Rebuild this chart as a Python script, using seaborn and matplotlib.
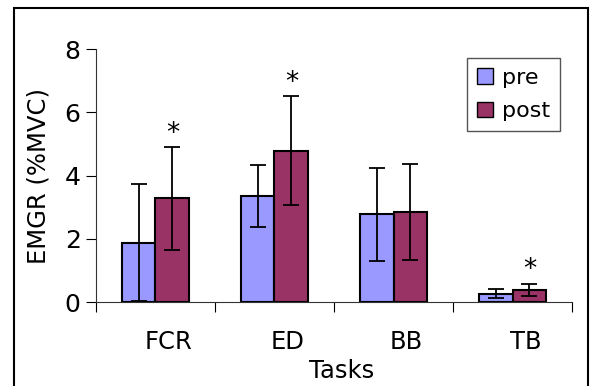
import matplotlib
matplotlib.use("Agg")
import matplotlib.pyplot as plt
import matplotlib.transforms as mtransforms
from matplotlib.patches import Rectangle, Patch
import seaborn as sns
import pandas as pd

# Datos
tareas = ["FCR", "ED", "BB", "TB"]
pre = [1.88, 3.36, 2.77, 0.26]
post = [3.28, 4.78, 2.84, 0.38]
err_pre = [1.85, 0.98, 1.48, 0.14]
err_post = [1.62, 1.72, 1.52, 0.20]
significativo = [True, True, False, True]

color_pre = "#9999FF"
color_post = "#993366"

df = pd.DataFrame({
    "Tasks": tareas * 2,
    "valor": pre + post,
    "grupo": ["pre"] * 4 + ["post"] * 4,
})

sns.set_style("white")
plt.rcParams["font.family"] = ["DejaVu Sans"]
plt.rcParams["text.color"] = "black"
plt.rcParams["axes.labelcolor"] = "black"
plt.rcParams["xtick.color"] = "black"
plt.rcParams["ytick.color"] = "black"

fig = plt.figure(figsize=(5.9, 3.86), dpi=100)
ax = fig.add_axes([0.1627, 0.2176, 0.8068, 0.6554])

sns.barplot(data=df, x="Tasks", y="valor", hue="grupo",
            palette=[color_pre, color_post], width=0.57, gap=0,
            saturation=1, errorbar=None, edgecolor="black", linewidth=1.5,
            legend=False, ax=ax)

# barras de error a partir de las barras dibujadas
barras = [p for p in ax.patches if p.get_height() > 0]
barras = sorted(barras, key=lambda p: p.get_x())
errores = []
for i in range(len(tareas)):
    errores.append(err_pre[i])
    errores.append(err_post[i])
for b, e in zip(barras, errores):
    xc = b.get_x() + b.get_width() / 2
    ax.errorbar(xc, b.get_height(), yerr=e, color="black", capsize=6,
                elinewidth=1.3, capthick=1.3, fmt="none")

# asteriscos
for i, s in enumerate(significativo):
    if s:
        b = barras[2 * i + 1]
        xc = b.get_x() + b.get_width() / 2
        ax.text(xc, post[i] + err_post[i] + 0.42, "*", ha="center",
                va="center", fontsize=19)

ax.set_ylim(0, 8)
ax.set_xlim(-0.5, 3.5)
ax.set_yticks([0, 2, 4, 6, 8])
ax.tick_params(axis="y", labelsize=18, length=7, width=0.8, direction="out",
               left=True, pad=4)

ax.set_xticks([-0.5, 0.5, 1.5, 2.5, 3.5])
ax.set_xticklabels([])
ax.tick_params(axis="x", which="major", length=7, width=0.8,
               direction="out", bottom=True)
ax.set_xticks(range(len(tareas)), minor=True)
ax.set_xticklabels(tareas, minor=True, fontsize=17.5)
ax.tick_params(axis="x", which="minor", length=0, pad=20)
desplazar = mtransforms.ScaledTranslation(13 / 100, 0, fig.dpi_scale_trans)
for lab in ax.get_xticklabels(minor=True):
    lab.set_transform(lab.get_transform() + desplazar)

ax.set_xlabel("Tasks", fontsize=17.5, labelpad=2)
ax.xaxis.set_label_coords(0.515, -0.225)
ax.set_ylabel("EMGR (%MVC)", fontsize=17.5, labelpad=10)

sns.despine(ax=ax)
for lado in ["left", "bottom"]:
    ax.spines[lado].set_color("#333333")
    ax.spines[lado].set_linewidth(0.8)

manijas = [Patch(facecolor=color_pre, edgecolor="black", label="pre"),
           Patch(facecolor=color_post, edgecolor="black", label="post")]
leg = ax.legend(handles=manijas, loc="upper left",
                bbox_to_anchor=(0.78, 0.965), fontsize=16, fancybox=False,
                handlelength=0.7, handleheight=0.7, handletextpad=0.4,
                borderpad=0.45, labelspacing=0.6, borderaxespad=0,
                framealpha=1)
leg.get_frame().set_edgecolor("#555555")
leg.get_frame().set_linewidth(1)

# marco exterior
fig.patches.append(Rectangle((0.0237, -0.05), 0.9729, 1.029,
                             transform=fig.transFigure, fill=False,
                             edgecolor="black", linewidth=1.5))

fig.savefig("out.png", dpi=100)
